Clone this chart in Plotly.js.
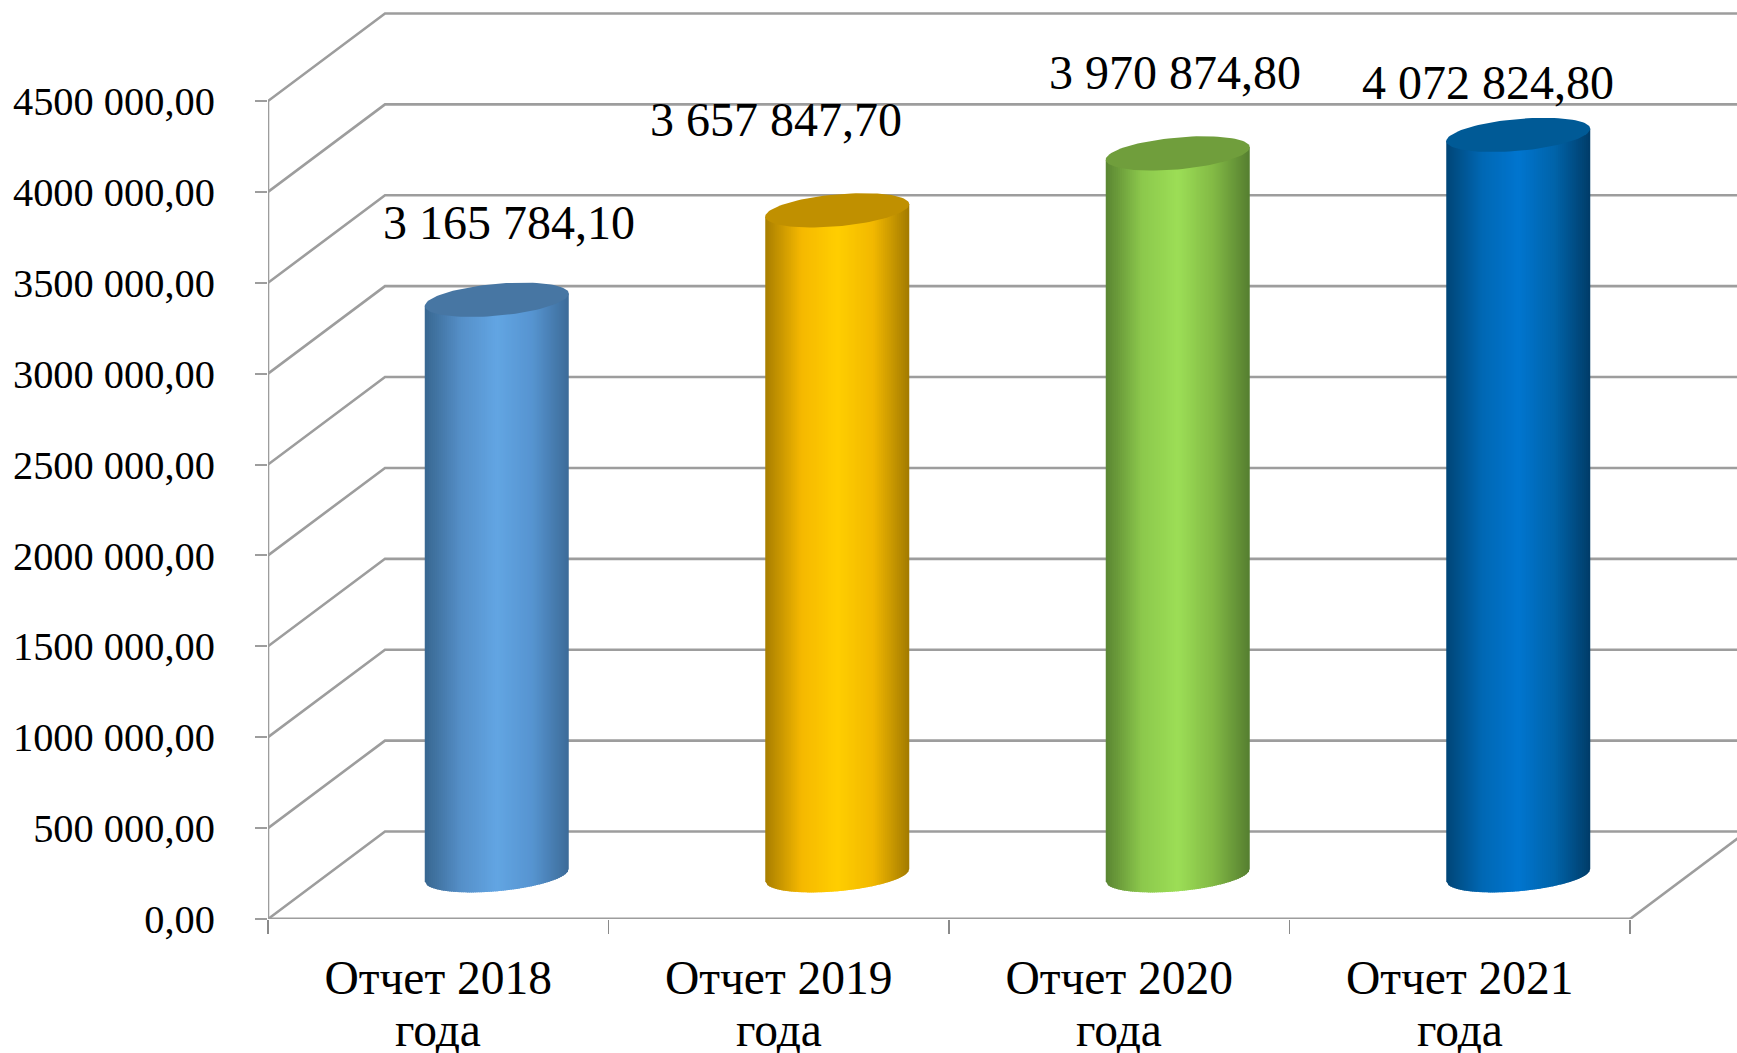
<!DOCTYPE html>
<html>
<head>
<meta charset="utf-8">
<script src="https://cdn.plot.ly/plotly-3.0.1.min.js"></script>
<style>html,body{margin:0;padding:0;background:#fff;overflow:hidden}</style>
</head>
<body>
<div id="chart" style="width:1737px;height:1053px"></div>
<script>
const categories = ["Отчет 2018", "Отчет 2019", "Отчет 2020", "Отчет 2021"];
const categorySecondLine = ["года", "года", "года", "года"];
const values = [3165784.10, 3657847.70, 3970874.80, 4072824.80];
const valueLabels = ["3 165 784,10", "3 657 847,70", "3 970 874,80", "4 072 824,80"];
const tickValues = [0, 500000, 1000000, 1500000, 2000000, 2500000, 3000000, 3500000, 4000000, 4500000];
const tickLabels = ["0,00", "500 000,00", "1000 000,00", "1500 000,00", "2000 000,00", "2500 000,00", "3000 000,00", "3500 000,00", "4000 000,00", "4500 000,00"];

const bodyStops = [
  ["#386790", "#558fc8", "#62a5e3", "#5694d0", "#3c6b98"],
  ["#a87e00", "#f5b800", "#ffce00", "#f2b800", "#a27a00"],
  ["#5a8532", "#8cc84c", "#9cde56", "#82b945", "#557e30"],
  ["#004576", "#0068b4", "#0075cf", "#0064aa", "#003c68"]
];
const capColors = ["#4776a3", "#c09000", "#709e3c", "#005a96"];
const labelShift = [[12, 77], [-61, 91], [-3, 81], [-30, 52]];

const W = 1737, H = 1053, L = 268, B = 134, plotBottom = H - B;
const pxPerCat = 340.5, pxPerVal = 818 / 4500000;
const xMax = (W - L) / pxPerCat, yMax = plotBottom / pxPerVal;
const depthX = 117 / pxPerCat, depthY = 87.5 / pxPerVal;
const halfW = 72 / pxPerCat, shear = 6.2 / pxPerVal, minor = 16 / pxPerVal;
const grid = "#9d9d9d";

function hex(c){return [1,3,5].map(i=>parseInt(c.substr(i,2),16));}
function shade(stops,t){
  const p=t*(stops.length-1), i=Math.min(Math.floor(p),stops.length-2), f=p-i;
  const a=hex(stops[i]), b=hex(stops[i+1]);
  return "rgb("+a.map((v,k)=>Math.round(v+(b[k]-v)*f)).join(",")+")";
}

const traces = [];
// true-value bars, carried under the shaded cylinders
traces.push({type:"bar", x:categories.map((_,i)=>i+0.5+depthX/2), y:values,
  base:values.map(()=>depthY/2), width:halfW*1.7,
  marker:{color:capColors, line:{width:0}}, hoverinfo:"x+y", showlegend:false});

// walls and floor
tickValues.forEach(v=>{
  traces.push({type:"scatter", mode:"lines", x:[0,depthX,4+depthX+1], y:[v,v+depthY,v+depthY],
    line:{color:grid,width:2.6}, hoverinfo:"skip", showlegend:false});
});
traces.push({type:"scatter", mode:"lines", x:[4,4+depthX], y:[0,depthY],
  line:{color:grid,width:2.6}, hoverinfo:"skip", showlegend:false});

// cylinders
const N = 72;
values.forEach((v,c)=>{
  const cx = c+0.5+depthX/2, y0 = depthY/2, y1 = v+depthY/2;
  for(let i=0;i<N;i++){
    const u0=-1+2*i/N, un=(i==N-1)?1:Math.min(1,-1+2*(i+1.6)/N);
    const bot=u=>y0+shear*u-minor*Math.sqrt(Math.max(0,1-u*u));
    const top=u=>y1+shear*u;
    traces.push({type:"scatter", mode:"lines", fill:"toself", line:{width:0},
      x:[cx+halfW*u0,cx+halfW*un,cx+halfW*un,cx+halfW*u0,cx+halfW*u0],
      y:[bot(u0),bot(un),top(un),top(u0),bot(u0)],
      fillcolor:shade(bodyStops[c],(i+0.5)/N), hoverinfo:"skip", showlegend:false});
  }
  const xs=[],ys=[];
  for(let k=0;k<=96;k++){
    const t=2*Math.PI*k/96, u=Math.cos(t);
    xs.push(cx+halfW*u); ys.push(y1+shear*u+minor*Math.sin(t));
  }
  traces.push({type:"scatter", mode:"lines", fill:"toself", x:xs, y:ys, line:{width:0},
    fillcolor:capColors[c], hoverinfo:"skip", showlegend:false});
});

const font = {family:"'Liberation Serif', 'Times New Roman', serif", color:"#000"};
const annotations = values.map((v,c)=>({
  x:c+0.5+depthX/2, y:v+depthY/2, xref:"x", yref:"y", text:valueLabels[c], showarrow:false,
  xanchor:"center", yanchor:"middle", xshift:labelShift[c][0], yshift:labelShift[c][1],
  font:Object.assign({size:48},font)
})).concat(categorySecondLine.map((t,c)=>({
  x:c+0.5, y:0, xref:"x", yref:"y", text:t, showarrow:false, xanchor:"center", yanchor:"middle",
  yshift:-111, font:Object.assign({size:47.5},font)
})));

const layout = {
  width:W, height:H, margin:{l:L,r:0,t:0,b:B,pad:0},
  paper_bgcolor:"#fff", plot_bgcolor:"#fff", showlegend:false, barmode:"overlay",
  xaxis:{range:[0,xMax], tickmode:"array", tickvals:categories.map((_,i)=>i+0.5),
    ticktext:categories, ticks:"", ticklen:0, showgrid:false, zeroline:false,
    showline:false, tickfont:Object.assign({size:47.5},font), tickangle:0, automargin:false,
    ticklabelstandoff:26,
    minor:{tickmode:"array", tickvals:[0,1,2,3,4], ticks:"outside", ticklen:14, tickwidth:1.5, tickcolor:"#8a8a8a", showgrid:false}},
  yaxis:{range:[0,yMax], tickmode:"array", tickvals:tickValues, ticktext:tickLabels,
    ticks:"outside", ticklen:12, tickwidth:2, tickcolor:grid, showgrid:false, zeroline:false,
    showline:false, tickfont:Object.assign({size:40.4},font), ticklabelstandoff:32, automargin:false},
  shapes:[
    {type:"line", xref:"x", yref:"y", x0:0, x1:0, y0:0, y1:4500000, line:{color:grid,width:2.6}},
    {type:"line", xref:"x", yref:"y", x0:0, x1:4, y0:0, y1:0, line:{color:grid,width:3}}
  ],
  annotations:annotations
};
Plotly.newPlot("chart", traces, layout, {displayModeBar:false, staticPlot:true});
</script>
</body>
</html>
